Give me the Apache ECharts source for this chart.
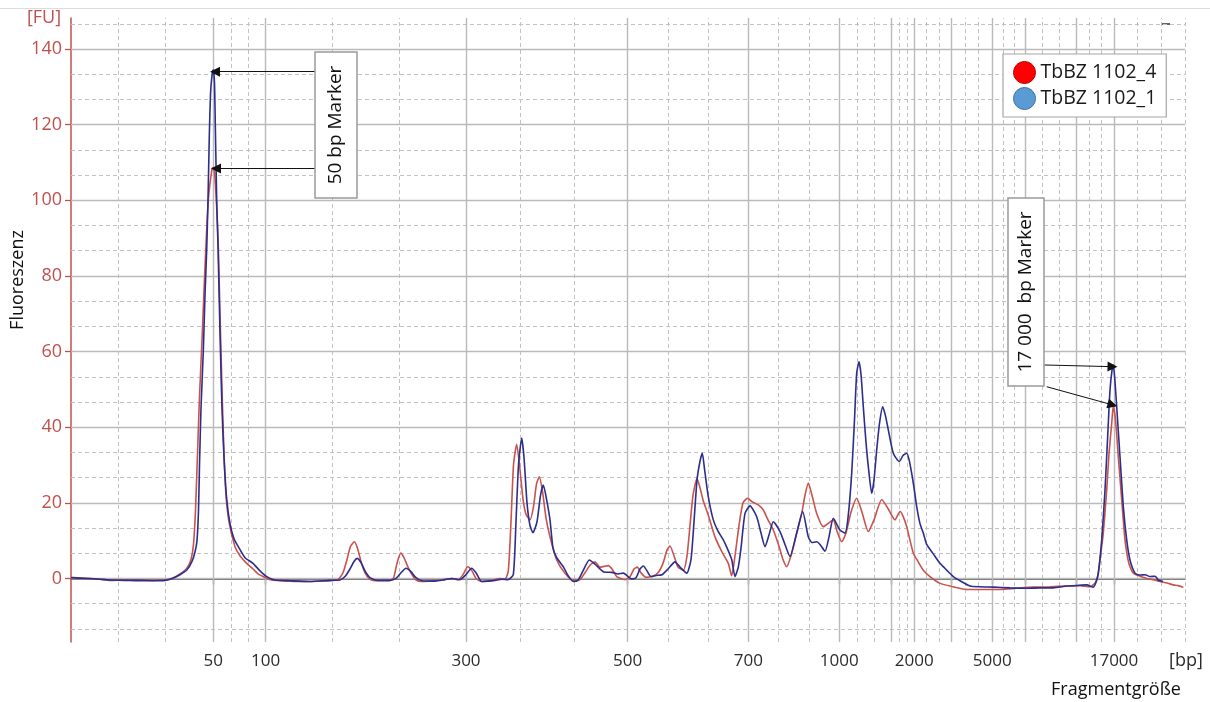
<!DOCTYPE html>
<html>
<head>
<meta charset="utf-8">
<title>Elektropherogramm TbBZ 1102</title>
<script src="https://cdn.jsdelivr.net/npm/echarts@6/dist/echarts.min.js"></script>
<style>
  html, body { margin: 0; padding: 0; background: #fff; }
  #chart { width: 1210px; height: 702px; }
</style>
</head>
<body>
<div id="chart"></div>
<script>
// Leiter: Lage der Fragmentgrößen auf der Laufzeitachse (s) und ihre Beschriftung
var ladderPos = [14.23, 19.47, 39.5, 55.67, 67.73, 76.83, 82.07, 84.33, 88.0, 92.13, 95.47, 100.57, 104.3];
var ladderLabel = ['50', '100', '300', '500', '700', '1000', '', '2000', '', '5000', '', '', '17000'];
var fuTicks = [0, 20, 40, 60, 80, 100, 120, 140];

// TbBZ 1102_4 (rot): [Laufzeit, FU]
var sample4 = [
  [0, 0.3], [0.9, 0.1], [1.9, 0], [2.9, -0.2], [3.9, -0.5], [5.4, -0.4], [6.9, -0.6], [8.4, -0.5], [9.4, -0.4],
  [10.1, 0], [10.9, 1.2], [11.6, 2.8], [12.0, 5], [12.25, 9], [12.45, 18], [12.65, 33], [12.85, 48], [13.1, 63],
  [13.33, 78], [13.53, 90], [13.73, 100], [13.95, 105.5], [14.13, 108.5], [14.28, 108.7], [14.42, 105], [14.57, 98],
  [14.73, 88], [14.9, 70], [15.1, 50], [15.3, 33], [15.5, 22], [15.8, 15], [16.4, 8.4], [16.9, 6], [17.57, 4],
  [18.2, 2.5], [18.7, 1.2], [19.2, 0.5], [19.9, -0.3], [21.9, -0.7], [23.9, -0.8], [25.9, -0.6], [26.7, -0.3],
  [27.2, 1.5], [27.6, 5], [27.95, 8.5], [28.33, 9.7], [28.65, 8], [29.0, 4.5], [29.4, 1.5], [29.9, -0.2],
  [30.7, -0.6], [31.7, -0.6], [32.23, 0], [32.6, 4], [32.97, 6.7], [33.3, 5.5], [33.7, 3], [34.1, 1], [34.5, -0.4],
  [35.1, -0.8], [36.4, -0.6], [37.23, -0.3], [38.1, 0], [38.7, -0.4], [39.2, 1], [39.67, 3.1], [40.1, 2], [40.5, 0],
  [41.07, -0.8], [41.9, -0.6], [42.9, 0], [43.4, -0.2], [43.73, 2], [44.0, 15], [44.25, 30], [44.57, 35.5],
  [44.85, 30], [45.2, 21], [45.5, 17], [45.9, 15.5], [46.25, 19], [46.55, 25], [46.83, 26.9], [47.15, 23],
  [47.5, 16], [47.9, 11], [48.57, 4.9], [49.4, 1.4], [50.23, -0.5], [50.9, -0.3], [51.4, 1.5], [51.9, 3.5],
  [52.4, 4.4], [52.9, 3], [53.3, 3.2], [53.73, 3.4], [54.1, 2.5], [54.57, 0.5], [55.4, -0.3], [55.9, 0.5],
  [56.3, 2.5], [56.63, 3.0], [57.0, 1.5], [57.5, 0.3], [58.1, 0.5], [58.7, 1.5], [59.2, 4], [59.6, 7.5],
  [59.9, 8.6], [60.3, 6], [60.7, 3], [61.23, 2.2], [61.6, 6], [61.9, 14], [62.2, 22], [62.6, 26.4], [62.9, 24],
  [63.23, 20.5], [63.7, 17], [64.4, 11], [65.1, 7], [65.73, 4], [66.07, 0.7], [66.4, 6], [66.8, 14], [67.2, 20],
  [67.65, 21.2], [68.1, 20.3], [68.7, 19.5], [69.23, 18.1], [69.7, 15.5], [70.23, 12.8], [70.8, 8.5], [71.2, 5],
  [71.57, 3.1], [72.0, 6], [72.4, 10.2], [73.07, 17.2], [73.4, 22], [73.73, 25.2], [74.1, 22], [74.57, 17.2],
  [75.23, 13.7], [75.7, 14.5], [76.23, 15.5], [76.6, 12.5], [77.07, 9.7], [77.5, 12], [78.0, 17.5], [78.57, 21.2],
  [79.1, 17.5], [79.73, 12.4], [80.3, 15.5], [81.07, 20.9], [81.7, 18.5], [82.4, 15.5], [82.9, 17.7], [83.2, 16.5],
  [83.57, 13.7], [84.23, 6.7], [84.7, 4.5], [85.23, 2.2], [85.9, 0.5], [86.9, -1.3], [88.23, -2.2], [89.57, -2.9],
  [90.9, -2.9], [92.9, -2.9], [94.5, -2.6], [96.23, -2.3], [97.9, -2.2], [99.57, -2], [100.9, -1.9], [101.9, -2.2],
  [102.3, -1.5], [102.57, -0.4], [102.73, 1.4], [102.95, 6], [103.23, 12], [103.57, 23.4], [103.8, 33],
  [104.07, 41], [104.23, 45.6], [104.45, 42], [104.73, 32.2], [105.07, 20.8], [105.4, 10.2], [105.7, 5],
  [105.9, 3.1], [106.23, 1.4], [106.9, 0.6], [107.57, 0], [108.2, -0.3], [108.9, -0.8], [109.6, -1.2],
  [110.23, -1.7], [110.7, -1.9], [111.23, -2.3]
];

// TbBZ 1102_1 (blau): [Laufzeit, FU]
var sample1 = [
  [0, 0.2], [0.9, 0.1], [1.9, 0], [2.9, -0.2], [3.9, -0.4], [5.4, -0.5], [6.9, -0.5], [8.4, -0.6], [9.4, -0.5],
  [10.1, 0], [10.9, 1], [11.6, 2.3], [12.1, 4.5], [12.4, 7], [12.6, 10], [12.75, 18], [12.85, 30], [13.0, 45],
  [13.23, 60], [13.4, 75], [13.57, 87], [13.7, 100], [13.83, 117], [13.95, 128], [14.1, 133], [14.23, 134.5],
  [14.35, 131], [14.43, 120], [14.57, 100], [14.7, 88], [14.9, 65], [15.1, 45], [15.3, 32], [15.57, 21],
  [15.9, 14.5], [16.3, 10.5], [16.73, 8.4], [17.4, 5.5], [18.2, 4], [18.9, 2], [19.57, 0.5], [20.4, -0.4],
  [21.9, -0.6], [23.9, -0.8], [25.9, -0.5], [26.9, -0.4], [27.4, 0.5], [27.9, 2.5], [28.3, 4.5], [28.63, 5.3],
  [29.0, 4.2], [29.4, 2], [29.9, 0.2], [30.7, -0.5], [31.9, -0.5], [32.5, 0], [33.0, 1.5], [33.5, 2.7], [34.0, 1.8],
  [34.5, 0.2], [35.1, -0.6], [36.4, -0.7], [37.4, -0.3], [38.1, 0], [38.9, -0.3], [39.5, 1], [40.07, 2.7],
  [40.5, 1.5], [41.07, -0.8], [41.7, -0.7], [42.4, -0.5], [43.1, -0.2], [43.7, -0.3], [44.23, 1], [44.5, 15],
  [44.75, 30], [45.07, 37.1], [45.3, 32], [45.6, 20], [45.9, 14], [46.2, 12.1], [46.6, 15], [46.95, 22],
  [47.23, 24.7], [47.55, 21], [47.9, 15.5], [48.2, 8], [48.57, 5.5], [49.23, 3.1], [49.7, 0.8], [50.23, -0.8],
  [50.7, -0.5], [51.2, 2], [51.83, 4.9], [52.4, 3.8], [53.23, 1.8], [54.1, 1.6], [54.7, 1.2], [55.23, 1.4],
  [56.07, -0.1], [56.5, 0.2], [56.9, 2.5], [57.23, 3.3], [57.6, 2], [58.0, 0.5], [58.5, 0.8], [59.1, 1],
  [59.7, 2.5], [60.4, 4.4], [60.9, 3], [61.57, 1.4], [62.0, 5], [62.3, 15], [62.6, 26], [62.9, 31], [63.13, 33.1],
  [63.35, 29], [63.73, 21.6], [64.23, 15.5], [64.7, 12.5], [65.23, 10.2], [65.7, 7.5], [66.07, 5], [66.4, 0.5],
  [66.73, 3], [67.0, 8], [67.4, 17.2], [67.9, 19.2], [68.57, 16.3], [69.0, 12], [69.4, 8.4], [69.8, 11.5],
  [70.23, 15], [70.9, 12.4], [71.4, 9], [71.9, 5.8], [72.57, 12], [73.17, 17.7], [73.73, 11], [74.1, 9.5],
  [74.57, 9.7], [74.9, 9], [75.4, 7.2], [75.8, 11], [76.23, 15.9], [76.9, 12.8], [77.4, 12], [77.7, 16],
  [78.07, 27.8], [78.35, 42], [78.57, 54.3], [78.8, 57.3], [79.0, 54], [79.23, 45.4], [79.5, 36], [79.73, 29.6],
  [80.07, 22.5], [80.3, 26], [80.57, 34], [80.85, 41], [81.17, 45.4], [81.45, 43], [81.73, 39.3], [82.23, 33.1],
  [82.83, 30.9], [83.2, 32.5], [83.57, 33.1], [83.8, 31.5], [84.07, 27.8], [84.3, 24], [84.57, 19], [84.9, 14.5],
  [85.23, 12], [85.57, 9], [86.23, 6.5], [86.9, 4], [87.57, 2.2], [88.23, 0.5], [88.9, -0.6], [89.9, -2],
  [90.9, -2.2], [92.23, -2.3], [93.9, -2.5], [95.57, -2.6], [96.9, -2.5], [98.23, -2.5], [99.57, -2], [100.9, -1.8],
  [101.57, -1.7], [102.23, -2.3], [102.5, -1], [102.73, 1.4], [103.07, 10.2], [103.4, 23.4], [103.73, 41],
  [103.9, 49.8], [104.1, 55], [104.23, 56.5], [104.4, 52], [104.57, 45.4], [104.9, 32.2], [105.23, 19],
  [105.57, 10.2], [105.9, 4.9], [106.4, 1.4], [106.9, 0.9], [107.4, 1], [107.9, 0.5], [108.4, 0.6],
  [108.73, -0.4], [109.2, -0.8]
];

var FONT = '"Open Sans", "DejaVu Sans", sans-serif';
var X_MIN = 0, X_MAX = 111.4, Y_MIN = -16.8, Y_MAX = 148.2;

// Gitterlinien: durchgezogen an den Leiterpunkten, gestrichelt in Dritteln dazwischen
var vMajor = ladderPos.slice();
var vMinor = [4.7, 9.47];
for (var i = 0; i < ladderPos.length - 1; i++) {
  var a = ladderPos[i], b = ladderPos[i + 1];
  vMinor.push(a + (b - a) / 3, a + 2 * (b - a) / 3);
}
vMinor.push(106.63, 109.07, X_MAX);
var hMajor = fuTicks.slice();
var hMinor = [];
for (var k = -2; k <= 22; k++) {
  var v = k * 20 / 3;
  if (k % 3 !== 0 && v > Y_MIN && v < Y_MAX) hMinor.push(v);
}

function vLines(xs) { return xs.map(function (x) { return { coords: [[x, Y_MIN], [x, Y_MAX]] }; }); }
function hLines(ys) { return ys.map(function (y) { return { coords: [[X_MIN, y], [X_MAX, y]] }; }); }

// Pfeile der Marker-Beschriftungen
var markerArrows = [
  [[24.4, 134], [14.4, 134]],
  [[24.4, 108.4], [14.5, 108.4]],
  [[97.33, 56.45], [104.15, 56.0]],
  [[97.57, 50.7], [104.15, 45.9]]
];

var chart = echarts.init(document.getElementById('chart'));

function gridSeries(data, dashed) {
  return {
    type: 'lines', coordinateSystem: 'cartesian2d', silent: true, z: 1,
    lineStyle: { color: dashed ? '#c2c2c2' : '#bababa', width: dashed ? 1 : 1.4, type: dashed ? [4, 3] : 'solid', opacity: 1 },
    data: data
  };
}

var option = {
  backgroundColor: '#fff',
  animation: false,
  textStyle: { fontFamily: FONT },
  grid: { left: 71, right: 25, top: 18, bottom: 60, containLabel: false },
  xAxis: {
    type: 'value', min: X_MIN, max: X_MAX,
    axisLine: { show: true, lineStyle: { color: '#404040', width: 1.5 } },
    axisTick: { show: true, length: 6, customValues: ladderPos, lineStyle: { color: '#404040', width: 1.3 } },
    axisLabel: {
      customValues: ladderPos, margin: 11, fontSize: 17, color: '#2b2b2b', fontFamily: FONT,
      formatter: function (val) {
        for (var i = 0; i < ladderPos.length; i++) {
          if (Math.abs(ladderPos[i] - val) < 0.01) return ladderLabel[i];
        }
        return '';
      }
    },
    splitLine: { show: false }
  },
  yAxis: {
    type: 'value', min: Y_MIN, max: Y_MAX,
    axisLine: { show: true, lineStyle: { color: '#c0504d', width: 1.5 } },
    axisTick: { show: true, length: 6, customValues: fuTicks, lineStyle: { color: '#c0504d', width: 1.3 } },
    axisLabel: { customValues: fuTicks, margin: 9, fontSize: 18, color: '#c0504d', fontFamily: FONT },
    splitLine: { show: false }
  },
  legend: {
    orient: 'vertical', left: 1003, top: 54,
    padding: [7, 10, 7, 10], itemGap: 3, itemWidth: 22, itemHeight: 22, icon: 'circle',
    backgroundColor: '#fff', borderColor: '#a6a6a6', borderWidth: 1.2,
    textStyle: { fontFamily: FONT, fontSize: 19.5, color: '#1a1a1a' },
    data: [
      { name: 'TbBZ 1102_4', itemStyle: { color: '#ff0000', borderColor: '#c00000', borderWidth: 1 } },
      { name: 'TbBZ 1102_1', itemStyle: { color: '#5b9bd5', borderColor: '#41719c', borderWidth: 1 } }
    ]
  },
  series: [
    gridSeries(vLines(vMinor), true),
    gridSeries(hLines(hMinor), true),
    gridSeries(vLines(vMajor), false),
    gridSeries(hLines(hMajor), false),
    {
      name: 'TbBZ 1102_4', type: 'line', data: sample4, showSymbol: false, symbol: 'none',
      smooth: 0.2, z: 3, lineStyle: { color: '#c9524b', width: 1.6 }, itemStyle: { color: '#c9524b' }
    },
    {
      name: 'TbBZ 1102_1', type: 'line', data: sample1, showSymbol: false, symbol: 'none',
      smooth: 0.2, z: 3, lineStyle: { color: '#2b2e8c', width: 1.6 }, itemStyle: { color: '#2b2e8c' }
    },
    {
      type: 'lines', coordinateSystem: 'cartesian2d', silent: true, z: 5,
      symbol: ['none', 'triangle'], symbolSize: 10,
      lineStyle: { color: '#111', width: 1, opacity: 1 },
      data: markerArrows.map(function (c) { return { coords: c }; })
    }
  ],
  graphic: [
    { type: 'line', shape: { x1: 0, y1: 8.5, x2: 1210, y2: 8.5 }, style: { stroke: '#dcdcdc', lineWidth: 1 }, silent: true },
    { type: 'line', shape: { x1: 1162, y1: 24, x2: 1170, y2: 24 }, style: { stroke: '#333', lineWidth: 1.5 }, silent: true },
    { type: 'text', x: 44, y: 18, style: { text: '[FU]', font: '18px ' + FONT, fill: '#c0504d', align: 'center', verticalAlign: 'middle' } },
    { type: 'text', x: 18, y: 280, rotation: Math.PI / 2, style: { text: 'Fluoreszenz', font: '18px ' + FONT, fill: '#111', align: 'center', verticalAlign: 'middle' } },
    { type: 'text', x: 1186, y: 661, style: { text: '[bp]', font: '18px ' + FONT, fill: '#2b2b2b', align: 'center', verticalAlign: 'middle' } },
    { type: 'text', x: 1116, y: 690, style: { text: 'Fragmentgröße', font: '18px ' + FONT, fill: '#111', align: 'center', verticalAlign: 'middle' } },
    { type: 'rect', z: 10, shape: { x: 315, y: 52, width: 42, height: 146 }, style: { fill: '#fff', stroke: '#9a9a9a', lineWidth: 1.5 } },
    { type: 'text', z: 11, x: 336, y: 125, rotation: Math.PI / 2, style: { text: '50 bp Marker', font: '19px ' + FONT, fill: '#111', align: 'center', verticalAlign: 'middle' } },
    { type: 'rect', z: 10, shape: { x: 1008, y: 198, width: 36, height: 188 }, style: { fill: '#fff', stroke: '#9a9a9a', lineWidth: 1.5 } },
    { type: 'text', z: 11, x: 1026, y: 292, rotation: Math.PI / 2, style: { text: '17 000  bp Marker', font: '19px ' + FONT, fill: '#111', align: 'center', verticalAlign: 'middle' } }
  ]
};

chart.setOption(option);
</script>
</body>
</html>
